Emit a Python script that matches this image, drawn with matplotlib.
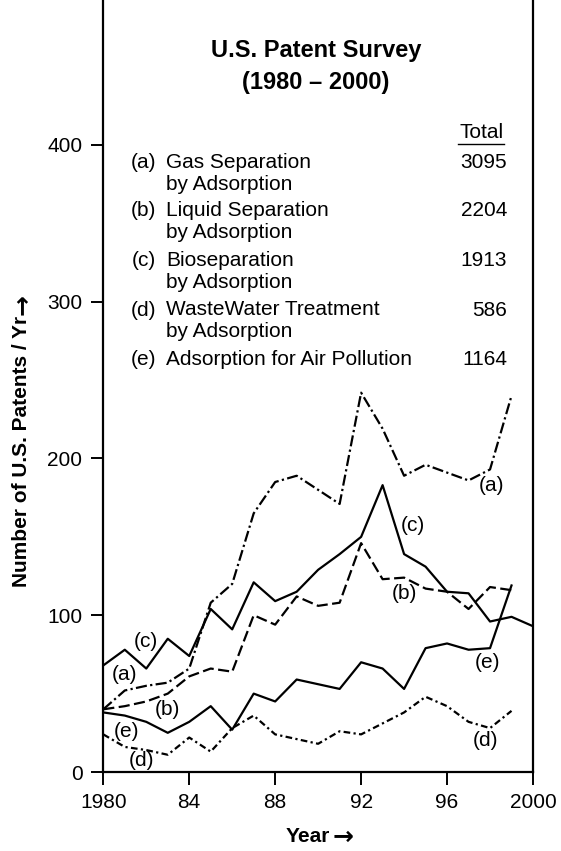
import matplotlib
matplotlib.use("Agg")
import matplotlib.pyplot as plt
from matplotlib.lines import Line2D

plt.rcParams['font.family'] = ['Liberation Sans', 'DejaVu Sans']

# Dados
anos = list(range(1980, 2000))
anos_c = list(range(1980, 2001))
gas_sep = [40, 52, 55, 57, 66, 108, 120, 165, 185, 189, 180, 171, 242, 219, 189, 196, 191, 186, 193, 240]
liq_sep = [40, 42, 45, 50, 61, 66, 64, 100, 94, 112, 106, 108, 146, 123, 124, 117, 115, 104, 118, 116]
bio_sep = [68, 78, 66, 85, 74, 104, 91, 121, 109, 115, 129, 139, 150, 183, 139, 131, 115, 114, 96, 99, 93]
agua_res = [24, 16, 14, 11, 22, 13, 28, 36, 24, 21, 18, 26, 24, 31, 38, 48, 42, 32, 28, 39]
ar_polu = [38, 36, 32, 25, 32, 42, 27, 50, 45, 59, 56, 53, 70, 66, 53, 79, 82, 78, 79, 119]

letras = ["(a)", "(b)", "(c)", "(d)", "(e)"]
nomes = ["Gas Separation\nby Adsorption", "Liquid Separation\nby Adsorption",
         "Bioseparation\nby Adsorption", "WasteWater Treatment\nby Adsorption",
         "Adsorption for Air Pollution"]
totais = ["3095", "2204", "1913", "586", "1164"]

W, H = 561, 851
fig = plt.figure(figsize=(W / 100, H / 100), dpi=100)
ax = fig.add_axes([103.3 / W, 1 - 772 / H, (533 - 103.3) / W, 772 / H])


def fx(x):
    return x / W


def fy(y):
    return 1 - y / H


lw = 1.6
ax.plot(anos, gas_sep, color="black", lw=lw, dashes=(5, 1.5, 1, 1.5))
ax.plot(anos, liq_sep, color="black", lw=lw, dashes=(5, 2))
ax.plot(anos_c, bio_sep, color="black", lw=lw)
ax.plot(anos, agua_res, color="black", lw=lw, dashes=(3, 1.5, 1, 1.5))
ax.plot(anos, ar_polu, color="black", lw=lw)

ax.set_xlim(1980, 2000)
ax.set_ylim(0, 492.5)
ax.set_xticks([1980, 1984, 1988, 1992, 1996, 2000])
ax.set_xticklabels(["1980", "84", "88", "92", "96", "2000"])
ax.set_yticks([0, 100, 200, 300, 400])
ax.tick_params(direction="out", length=9, width=1.4, labelsize=15, pad=6)
ax.spines["top"].set_visible(False)
for s in ["left", "right", "bottom"]:
    ax.spines[s].set_linewidth(1.6)

# Rótulos nas curvas
fs = 15
rotulos = [("(c)", 1982.0, 83), ("(a)", 1981.0, 62), ("(b)", 1983.0, 40), ("(e)", 1981.1, 26),
           ("(d)", 1981.8, 7.5), ("(a)", 1998.05, 183), ("(c)", 1994.4, 157), ("(b)", 1994.0, 114),
           ("(e)", 1997.9, 70), ("(d)", 1997.8, 20)]
for txt, x, y in rotulos:
    ax.text(x, y, txt, ha="center", va="center", fontsize=fs)

# Caixa de texto
fig.text(fx(316), fy(51), "U.S. Patent Survey", ha="center", va="center", fontsize=17, fontweight="bold")
fig.text(fx(316), fy(83), "(1980 – 2000)", ha="center", va="center", fontsize=17, fontweight="bold")
fig.text(fx(504), fy(132), "Total", ha="right", va="center", fontsize=fs)
fig.add_artist(Line2D([fx(458), fx(504)], [fy(144), fy(144)], color="black", lw=1.0))

linhas_y = [163, 211, 261, 310, 360]
for letra, nome, total, y in zip(letras, nomes, totais, linhas_y):
    fig.text(fx(156), fy(y), letra, ha="right", va="center", fontsize=fs)
    fig.text(fx(166), fy(y) + 0.012, nome, ha="left", va="top", fontsize=fs, linespacing=1.2)
    fig.text(fx(507), fy(y), total, ha="right", va="center", fontsize=fs)

# Rótulos dos eixos, com seta maior
fig.text(fx(22), fy(316), "Number of U.S. Patents / Yr", rotation=90, ha="center", va="top",
         fontsize=15, fontweight="bold")
fig.text(fx(22), fy(315), "→", rotation=90, ha="center", va="bottom",
         fontsize=18, fontweight="bold", family="DejaVu Sans")
fig.text(fx(330), fy(837), "Year", ha="right", va="center", fontsize=15, fontweight="bold")
fig.text(fx(333), fy(837), "→", ha="left", va="center", fontsize=18, fontweight="bold",
         family="DejaVu Sans")

fig.savefig("out.png", dpi=100)
